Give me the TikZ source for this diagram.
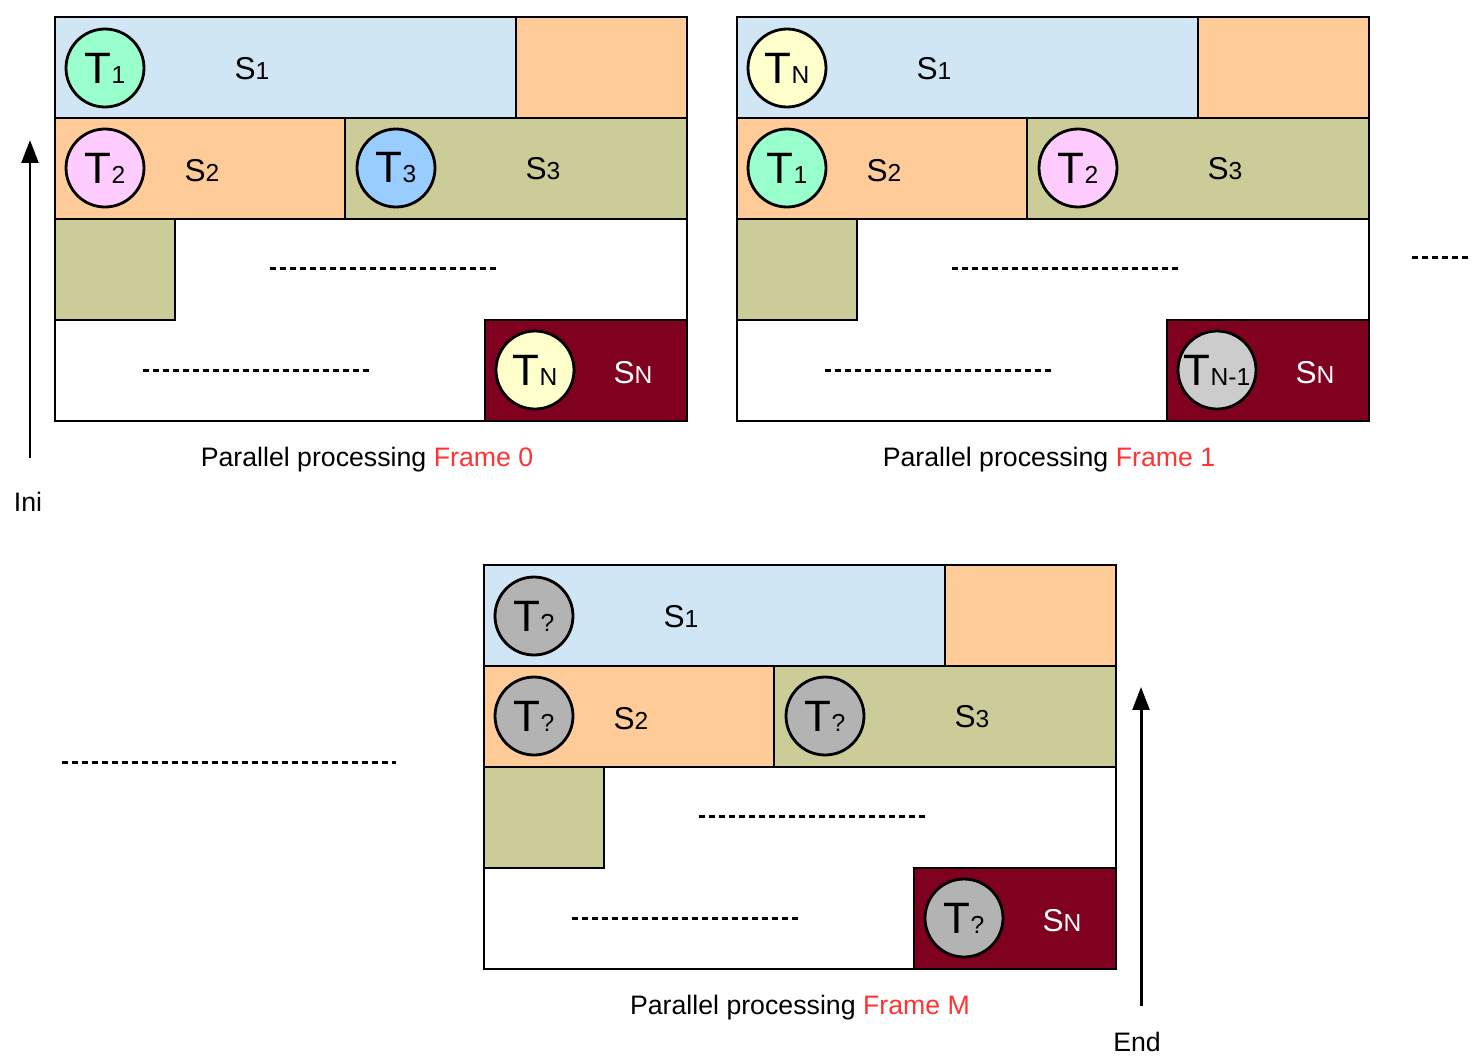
\documentclass[tikz,border=0pt]{standalone}
\usepackage{fontspec}
\setmainfont{Liberation Sans}
\usetikzlibrary{arrows.meta}
\definecolor{segblue}{HTML}{D0E6F4}
\definecolor{segorange}{HTML}{FFCC99}
\definecolor{segolive}{HTML}{CCCC99}
\definecolor{segred}{HTML}{800020}
\definecolor{thgreen}{HTML}{99FFCC}
\definecolor{thpink}{HTML}{FFCCFF}
\definecolor{thblue}{HTML}{99CCFF}
\definecolor{thyellow}{HTML}{FFFFCC}
\definecolor{thgray}{HTML}{CCCCCC}
\definecolor{thdark}{HTML}{B3B3B3}
\definecolor{capred}{HTML}{FF3333}
\newcommand\seglabel[1]{{\fontsize{18}{18}\selectfont S}{\fontsize{14}{14}\selectfont #1}}
\newcommand\thrlabel[1]{{\fontsize{25}{25}\selectfont T}{\fontsize{14}{14}\selectfont #1}}
\tikzset{
  seg/.style={draw=black, line width=1.6pt},
  thread/.style={circle, draw=black, line width=1.6pt, minimum size=1.56cm, inner sep=0pt},
  dots/.style={line width=1.7pt, dash pattern=on 3.4pt off 2.3pt},
  caption/.style={font=\fontsize{15.2}{15.2}\selectfont},
  timeline/.style={line width=1.7pt, -{Triangle[length=13pt, width=9.5pt]}},
}
\begin{document}
\begin{tikzpicture}[x=0.02cm, y=-0.02cm]
			\useasboundingbox (0, 0) rectangle (1483, 1062);
			
			%%%%% FRAME 0 %%%%%
			\begin{scope}[shift={(55, 17)}]
			\draw[seg, fill=segblue] (0, 0) rectangle (461, 101);
			\draw[seg, fill=segorange] (461, 0) rectangle (632, 101);
			\draw[seg, fill=segorange] (0, 101) rectangle (290, 202);
			\draw[seg, fill=segolive] (290, 101) rectangle (632, 202);
			\draw[seg, fill=segolive] (0, 202) rectangle (120, 303);
			\draw[seg, fill=segred] (430, 303) rectangle (632, 404);
			\draw[seg] (0, 0) rectangle (632, 404);
			\draw[dots] (215, 251) -- (442, 251);
			\draw[dots] (88, 353) -- (316, 353);
			
			\node[thread, fill=thgreen] (t1a) at (50, 51) {\thrlabel{1}};
			\node[thread, fill=thpink] (t2a) at (50, 151) {\thrlabel{2}};
			\node[thread, fill=thblue] (t3a) at (341, 151) {\thrlabel{3}};
			\node[thread, fill=thyellow] (tna) at (480, 353) {\thrlabel{N}};
			
			\node (s1a) at (197, 52) {\seglabel{1}};
			\node (s2a) at (147, 154) {\seglabel{2}};
			\node (s3a) at (488, 152) {\seglabel{3}};
			\node[text=white] (sna) at (578, 356) {\seglabel{N}};
			
			\node[caption] (capa) at (312, 443) {Parallel processing \textcolor{capred}{Frame 0}};
			\end{scope}
			
			%%%%% FRAME 1 %%%%%
			\begin{scope}[shift={(737, 17)}]
			\draw[seg, fill=segblue] (0, 0) rectangle (461, 101);
			\draw[seg, fill=segorange] (461, 0) rectangle (632, 101);
			\draw[seg, fill=segorange] (0, 101) rectangle (290, 202);
			\draw[seg, fill=segolive] (290, 101) rectangle (632, 202);
			\draw[seg, fill=segolive] (0, 202) rectangle (120, 303);
			\draw[seg, fill=segred] (430, 303) rectangle (632, 404);
			\draw[seg] (0, 0) rectangle (632, 404);
			\draw[dots] (215, 251) -- (442, 251);
			\draw[dots] (88, 353) -- (316, 353);
			
			\node[thread, fill=thyellow] (tnb) at (50, 51) {\thrlabel{N}};
			\node[thread, fill=thgreen] (t1b) at (50, 151) {\thrlabel{1}};
			\node[thread, fill=thpink] (t2b) at (341, 151) {\thrlabel{2}};
			\node[thread, fill=thgray] (tmb) at (480, 353) {\thrlabel{N-1}};
			
			\node (s1b) at (197, 52) {\seglabel{1}};
			\node (s2b) at (147, 154) {\seglabel{2}};
			\node (s3b) at (488, 152) {\seglabel{3}};
			\node[text=white] (snb) at (578, 356) {\seglabel{N}};
			
			\node[caption] (capb) at (312, 443) {Parallel processing \textcolor{capred}{Frame 1}};
			\end{scope}
			
			%%%%% FRAME M %%%%%
			\begin{scope}[shift={(484, 565)}]
			\draw[seg, fill=segblue] (0, 0) rectangle (461, 101);
			\draw[seg, fill=segorange] (461, 0) rectangle (632, 101);
			\draw[seg, fill=segorange] (0, 101) rectangle (290, 202);
			\draw[seg, fill=segolive] (290, 101) rectangle (632, 202);
			\draw[seg, fill=segolive] (0, 202) rectangle (120, 303);
			\draw[seg, fill=segred] (430, 303) rectangle (632, 404);
			\draw[seg] (0, 0) rectangle (632, 404);
			\draw[dots] (215, 251) -- (442, 251);
			\draw[dots] (88, 353) -- (316, 353);
			
			\node[thread, fill=thdark] (tqa) at (50, 51) {\thrlabel{?}};
			\node[thread, fill=thdark] (tqb) at (50, 151) {\thrlabel{?}};
			\node[thread, fill=thdark] (tqc) at (341, 151) {\thrlabel{?}};
			\node[thread, fill=thdark] (tqd) at (480, 353) {\thrlabel{?}};
			
			\node (s1m) at (197, 52) {\seglabel{1}};
			\node (s2m) at (147, 154) {\seglabel{2}};
			\node (s3m) at (488, 152) {\seglabel{3}};
			\node[text=white] (snm) at (578, 356) {\seglabel{N}};
			
			\node[caption] (capm) at (316, 443) {Parallel processing \textcolor{capred}{Frame M}};
			\end{scope}
			
			%%%%% BETWEEN FRAMES %%%%%
			\draw[dots] (1412, 257) -- (1470, 257);
			\draw[dots] (62, 762) -- (396, 762);
			
			%%%%% TIME ARROWS %%%%%
			\node[caption] (ini) at (28, 502) {Ini};
			\coordinate (inistart) at (30, 458);
			\coordinate (initop) at (30, 140);
			\draw[timeline] (inistart) -- (initop);
			
			\node[caption] (fin) at (1137, 1042) {End};
			\coordinate (finstart) at (1141, 1006);
			\coordinate (fintop) at (1141, 687);
			\draw[timeline] (finstart) -- (fintop);
			
		\end{tikzpicture}
\end{document}
